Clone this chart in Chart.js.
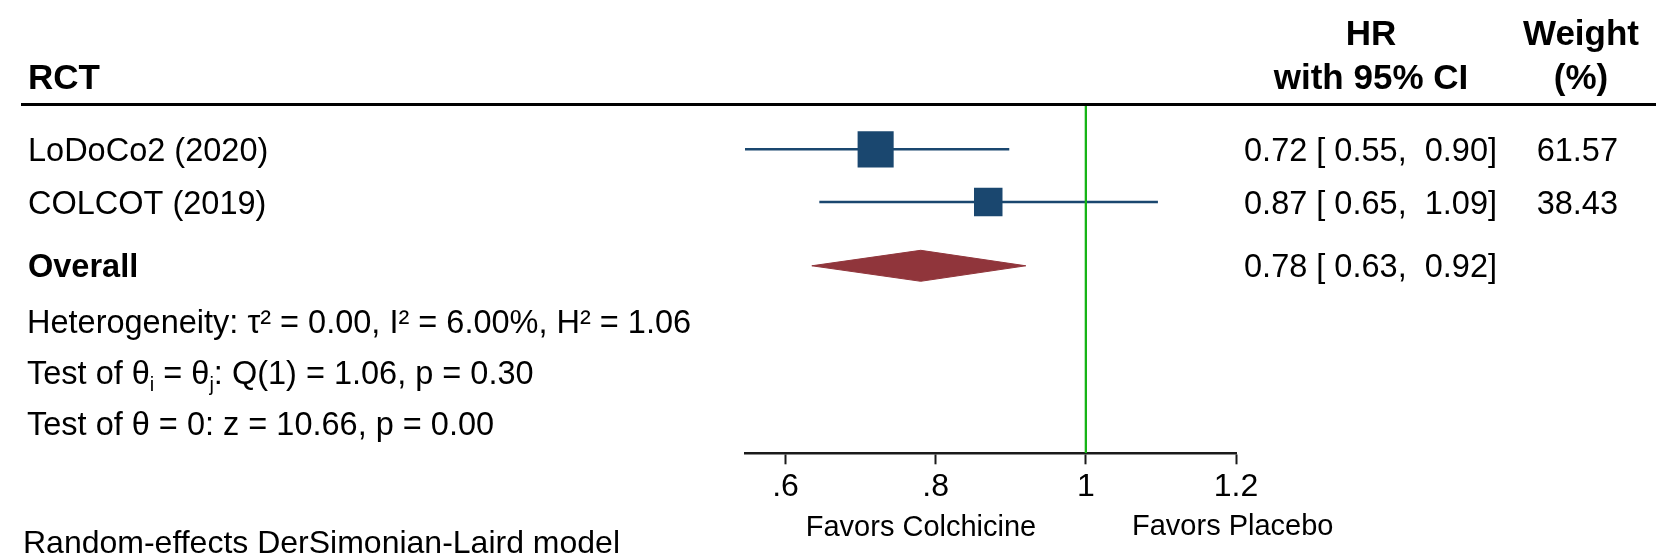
<!DOCTYPE html>
<html>
<head>
<meta charset="utf-8">
<script src="https://cdn.jsdelivr.net/npm/chart.js@4.4.0/dist/chart.umd.min.js"></script>
<style>
  html, body { margin: 0; padding: 0; background: #ffffff; }
  #wrap { width: 1658px; height: 555px; }
</style>
</head>
<body>
<div id="wrap"><canvas id="forest" width="1658" height="555"></canvas></div>
<script>
// estudos
var estudos = ['LoDoCo2 (2020)', 'COLCOT (2019)'];
var hr = [0.72, 0.87];
var ciLow = [0.546, 0.645];      // como desenhado
var ciHigh = [0.898, 1.096];
var ciLowPrint = [0.55, 0.65];   // como impresso na coluna
var ciHighPrint = [0.90, 1.09];
var pesos = [61.57, 38.43];

// efeito global
var overallLabel = 'Overall';
var overallHr = 0.78;
var overallLow = 0.635;
var overallHigh = 0.92;
var overallLowPrint = 0.63;
var overallHighPrint = 0.92;

// eixo x
var tickVals = [0.6, 0.8, 1, 1.2];
var tickLabels = ['.6', '.8', '1', '1.2'];
var nullValue = 1;
var xMin = 0.546;
var xMax = 1.2;

// textos
var colHeaders = ['HR', 'with 95% CI'];
var weightHeaders = ['Weight', '(%)'];
var studyHeader = 'RCT';
var statLines = [
  [['Heterogeneity: \u03c4\u00b2 = 0.00, I\u00b2 = 6.00%, H\u00b2 = 1.06', '']],
  [['Test of \u03b8', ''], ['i', 'sub'], [' = \u03b8', ''], ['j', 'sub'], [': Q(1) = 1.06, p = 0.30', '']],
  [['Test of \u03b8 = 0: z = 10.66, p = 0.00', '']]
];
var favorsLeft = 'Favors Colchicine';
var favorsRight = 'Favors Placebo';
var modelNote = 'Random-effects DerSimonian-Laird model';

// layout (linhas no eixo y, 0 = linha do cabecalho, 7 = eixo x)
var rowPos = [0.9, 1.955];
var overallPos = 3.237;
var statPos = [4.345, 5.375, 6.39];

var fonte = "'Liberation Sans', Arial, Helvetica, sans-serif";
var navy = '#1a476f';
var maroon = '#90353b';
var verde = '#16b416';

function fmt(v) { return v.toFixed(2); }
function ciText(h, l, u) { return fmt(h) + ' [ ' + fmt(l) + ',  ' + fmt(u) + ']'; }

function drawRich(ctx, pieces, x, base, size, bold) {
  var peso = bold ? 'bold ' : '';
  for (var i = 0; i < pieces.length; i++) {
    var txt = pieces[i][0];
    var tipo = pieces[i][1];
    if (tipo == 'sub') {
      ctx.font = peso + Math.round(size * 0.6) + 'px ' + fonte;
      ctx.fillText(txt, x, base + size * 0.22);
    } else {
      ctx.font = peso + size + 'px ' + fonte;
      ctx.fillText(txt, x, base);
    }
    x += ctx.measureText(txt).width;
  }
}

var textoPlugin = {
  id: 'texto',
  afterDraw: function(chart) {
    var ctx = chart.ctx;
    var ys = chart.scales.y;
    var sz = 32.5;
    var hsz = 35;
    var cap = 0.358;
    ctx.save();
    ctx.fillStyle = '#000000';
    ctx.textBaseline = 'alphabetic';

    // cabecalho
    ctx.font = 'bold ' + hsz + 'px ' + fonte;
    ctx.textAlign = 'left';
    ctx.fillText(studyHeader, 28, 76 + hsz * cap);
    ctx.textAlign = 'center';
    ctx.fillText(colHeaders[0], 1371, 32 + hsz * cap);
    ctx.fillText(colHeaders[1], 1371, 76 + hsz * cap);
    ctx.fillText(weightHeaders[0], 1581, 32 + hsz * cap);
    ctx.fillText(weightHeaders[1], 1581, 76 + hsz * cap);

    // linha do cabecalho
    var yLinha = ys.getPixelForValue(0);
    ctx.strokeStyle = '#000000';
    ctx.lineWidth = 3;
    ctx.beginPath();
    ctx.moveTo(21, yLinha);
    ctx.lineTo(1656, yLinha);
    ctx.stroke();

    // estudos
    for (var i = 0; i < estudos.length; i++) {
      var yb = ys.getPixelForValue(rowPos[i]) + sz * cap;
      ctx.font = sz + 'px ' + fonte;
      ctx.textAlign = 'left';
      ctx.fillText(estudos[i], 28, yb);
      ctx.textAlign = 'right';
      ctx.fillText(ciText(hr[i], ciLowPrint[i], ciHighPrint[i]), 1497, yb);
      ctx.fillText(fmt(pesos[i]), 1618, yb);
    }

    // overall
    var yo = ys.getPixelForValue(overallPos) + sz * cap;
    ctx.font = 'bold ' + sz + 'px ' + fonte;
    ctx.textAlign = 'left';
    ctx.fillText(overallLabel, 28, yo);
    ctx.font = sz + 'px ' + fonte;
    ctx.textAlign = 'right';
    ctx.fillText(ciText(overallHr, overallLowPrint, overallHighPrint), 1497, yo);

    // estatisticas
    ctx.textAlign = 'left';
    for (var k = 0; k < statLines.length; k++) {
      drawRich(ctx, statLines[k], 27, ys.getPixelForValue(statPos[k]) + sz * cap, sz, false);
    }

    // rodape
    ctx.font = '29px ' + fonte;
    ctx.textAlign = 'center';
    ctx.fillText(favorsLeft, 921, 526 + 29 * cap);
    ctx.textAlign = 'left';
    ctx.fillText(favorsRight, 1132, 525 + 29 * cap);
    ctx.font = '32px ' + fonte;
    ctx.fillText(modelNote, 23, 542 + 30 * cap);
    ctx.restore();
  }
};

var datasets = [];

// linha de nulidade
datasets.push({
  data: [{ x: nullValue, y: 0 }, { x: nullValue, y: 7 }],
  showLine: true, borderColor: verde, borderWidth: 2.3, pointRadius: 0, order: 0
});

// quadrados (tamanho pelo peso)
datasets.push({
  data: hr.map(function(v, i) { return { x: v, y: rowPos[i] }; }),
  pointStyle: 'rect',
  pointRadius: pesos.map(function(p) { return Math.sqrt(p) * 3.25; }),
  backgroundColor: navy, borderColor: navy, borderWidth: 0, order: 1
});

// intervalos de confianca
for (var i = 0; i < hr.length; i++) {
  datasets.push({
    data: [{ x: ciLow[i], y: rowPos[i] }, { x: ciHigh[i], y: rowPos[i] }],
    showLine: true, borderColor: navy, borderWidth: 2.5, pointRadius: 0, order: 2
  });
}

// diamante
var dh = 0.311;
datasets.push({
  data: [
    { x: overallLow, y: overallPos },
    { x: overallHr, y: overallPos - dh },
    { x: overallHigh, y: overallPos },
    { x: overallHr, y: overallPos + dh },
    { x: overallLow, y: overallPos }
  ],
  showLine: true, fill: 'shape', tension: 0,
  backgroundColor: maroon, borderColor: maroon, borderWidth: 1, pointRadius: 0, order: 3
});

new Chart(document.getElementById('forest'), {
  type: 'scatter',
  data: { datasets: datasets },
  options: {
    responsive: false,
    animation: false,
    devicePixelRatio: 1,
    events: [],
    layout: { padding: { left: 745, right: 422, top: 104.5, bottom: 0 } },
    plugins: { legend: { display: false }, tooltip: { enabled: false } },
    scales: {
      x: {
        type: 'linear',
        min: xMin,
        max: xMax,
        afterBuildTicks: function(s) { s.ticks = tickVals.map(function(v) { return { value: v }; }); },
        afterFit: function(s) { s.height = 555 - 453.3; },
        border: { display: true, color: '#1a1a1a', width: 2.5 },
        grid: { drawOnChartArea: false, drawTicks: true, tickLength: 11, tickColor: '#1a1a1a', tickWidth: 2 },
        ticks: {
          color: '#000000',
          padding: 4,
          font: { family: fonte, size: 32 },
          callback: function(v, idx) { return tickLabels[idx]; }
        }
      },
      y: { type: 'linear', min: 0, max: 7, reverse: true, display: false }
    }
  },
  plugins: [textoPlugin]
});
</script>
</body>
</html>
